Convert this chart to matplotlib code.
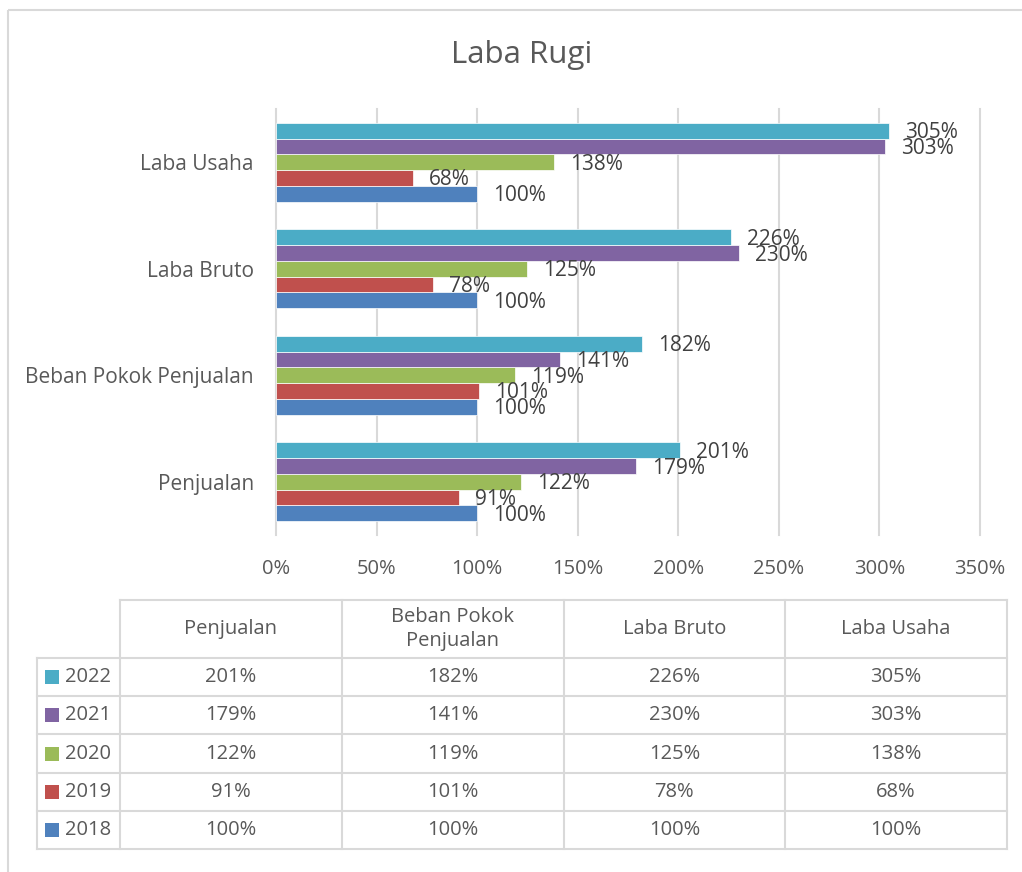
import matplotlib.pyplot as plt
from matplotlib.patches import Rectangle

# data
categories = ['Penjualan', 'Beban Pokok Penjualan', 'Laba Bruto', 'Laba Usaha']
years = ['2018', '2019', '2020', '2021', '2022']
v2018 = [100, 100, 100, 100]
v2019 = [91, 101, 78, 68]
v2020 = [122, 119, 125, 138]
v2021 = [179, 141, 230, 303]
v2022 = [201, 182, 226, 305]
series = [v2018, v2019, v2020, v2021, v2022]
colors = ['#4F81BD', '#C0504D', '#9BBB59', '#8064A2', '#4BACC6']
xticks = [0, 50, 100, 150, 200, 250, 300, 350]
table_headers = ['Penjualan', 'Beban Pokok\nPenjualan', 'Laba Bruto', 'Laba Usaha']

plt.rcParams['font.family'] = ['Open Sans', 'DejaVu Sans']
W, H = 1022, 872
txt = '#595959'
grid = '#d9d9d9'
fs = 14.5

fig = plt.figure(figsize=(W / 100, H / 100), dpi=100)

# background layer in pixel coords: frame, title, table
bg = fig.add_axes([0, 0, 1, 1])
bg.set_xlim(0, W); bg.set_ylim(H, 0); bg.axis('off')
bg.add_patch(Rectangle((8, 10), W + 20, H + 20, fill=False, edgecolor=grid, lw=1.5, clip_on=False))
bg.text(522, 55, 'Laba Rugi', ha='center', va='center', fontsize=22.5, color=txt)

# table
col_x = [120 + 221.75 * i for i in range(5)]
row_y = [600, 658] + [658 + 38.2 * (i + 1) for i in range(5)]
left = 37
bg.plot([col_x[0], col_x[-1]], [row_y[0]] * 2, color=grid, lw=1.5)
for yy in row_y[1:]:
    bg.plot([left, col_x[-1]], [yy] * 2, color=grid, lw=1.5)
bg.plot([left, left], [row_y[1], row_y[-1]], color=grid, lw=1.5)
for xx in col_x:
    bg.plot([xx, xx], [row_y[0], row_y[-1]], color=grid, lw=1.5)
for j, hdr in enumerate(table_headers):
    bg.text((col_x[j] + col_x[j + 1]) / 2, (row_y[0] + row_y[1]) / 2, hdr,
            ha='center', va='center', fontsize=fs, color=txt, linespacing=1.3)
for r, i in enumerate(range(len(years) - 1, -1, -1)):
    yc = (row_y[r + 1] + row_y[r + 2]) / 2
    bg.add_patch(Rectangle((45, yc - 7), 14, 14, color=colors[i], lw=0))
    bg.text(65, yc, years[i], ha='left', va='center', fontsize=fs, color=txt)
    for j in range(len(categories)):
        bg.text((col_x[j] + col_x[j + 1]) / 2, yc, f'{series[i][j]}%',
                ha='center', va='center', fontsize=fs, color=txt)

# bar chart
ax = fig.add_axes([276 / W, (H - 535) / H, 704 / W, 426 / H])
ax.patch.set_alpha(0)
h = 0.1475
for i, vals in enumerate(series):
    ys = [k + (i - 2) * h for k in range(len(categories))]
    ax.barh(ys, vals, height=h, color=colors[i], edgecolor='white', linewidth=0.5, zorder=3)
    for yy, v in zip(ys, vals):
        ax.annotate(f'{v}%', (v, yy), xytext=(16, -2), textcoords='offset pixels',
                    ha='left', va='center', fontsize=15, color='#404040', zorder=4)

ax.set_xlim(0, 350)
ax.set_ylim(-0.5, len(categories) - 0.5)
ax.set_xticks(xticks)
ax.set_xticklabels([f'{t}%' for t in xticks])
ax.set_yticks(range(len(categories)))
ax.set_yticklabels(categories, fontsize=15)
ax.tick_params(axis='both', length=0, labelcolor=txt)
ax.tick_params(axis='x', pad=17, labelsize=fs)
ax.tick_params(axis='y', pad=16)
for s in ax.spines.values():
    s.set_visible(False)
for t in xticks:
    ax.axvline(t, color=grid, lw=1.5, zorder=1, clip_on=False)

fig.savefig('out.png', dpi=100)
